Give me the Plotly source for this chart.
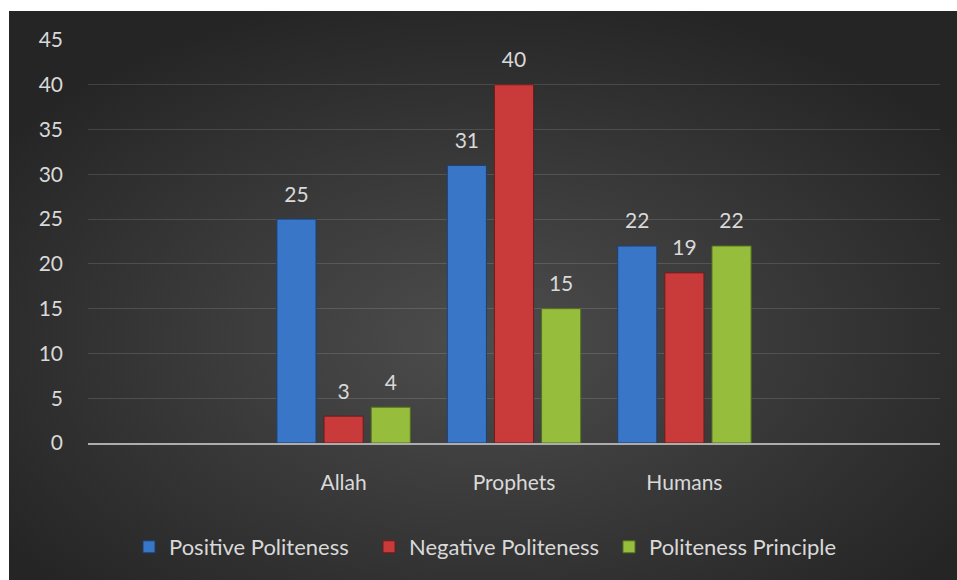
import base64
import plotly.graph_objects as go

categories = ["Allah", "Prophets", "Humans"]
series_names = ["Positive Politeness", "Negative Politeness", "Politeness Principle"]
positive = [25, 31, 22]
negative = [3, 40, 19]
principle = [4, 15, 22]
y_ticks = [0, 5, 10, 15, 20, 25, 30, 35, 40, 45]

colors = ["#3A76C8", "#C93A3A", "#96BE3C"]
edge = ["#1d3f70", "#6e1c1c", "#54701c"]
FONT = "Lato"
TXT = "#D9D9D9"
FS = 21

svg = """<svg xmlns='http://www.w3.org/2000/svg' width='948' height='569' preserveAspectRatio='none'>
<defs><radialGradient id='g' cx='50%' cy='58%' r='62%'>
<stop offset='0' stop-color='#4d4d4d'/><stop offset='1' stop-color='#252525'/>
</radialGradient></defs><rect width='948' height='569' fill='url(#g)'/></svg>"""
src = "data:image/svg+xml;base64," + base64.b64encode(svg.encode()).decode()

fig = go.Figure()
all_vals = [positive, negative, principle]
for name, vals, c, e in zip(series_names, all_vals, colors, edge):
    fig.add_trace(go.Bar(
        x=categories, y=vals, name=name,
        marker=dict(color=c, line=dict(color=e, width=1)),
        hoverinfo="x+y+name",
    ))
# value labels, grouped like the bars
for name, vals in zip(series_names, all_vals):
    fig.add_trace(go.Scatter(
        x=categories, y=vals, mode="markers+text", text=vals,
        textposition="top center", cliponaxis=False,
        marker=dict(size=18, opacity=0), textfont=dict(color=TXT, size=FS, family=FONT),
        showlegend=False, hoverinfo="skip", name=name,
    ))

L, R, T, B = 88, 17, 40, 137
W, H = 957, 580
pw, ph = W - L - R, H - T - B

fig.update_layout(
    width=W, height=H,
    margin=dict(l=L, r=R, t=T, b=B, autoexpand=False),
    paper_bgcolor="white",
    plot_bgcolor="rgba(0,0,0,0)",
    barmode="group", bargap=0.17, bargroupgap=0.17,
    scattermode="group", scattergap=0.17,
    font=dict(family=FONT, color=TXT, size=FS),
    images=[dict(source=src, xref="paper", yref="paper",
                 x=(9 - L) / pw, y=(H - B - 11) / ph,
                 sizex=948 / pw, sizey=569 / ph,
                 xanchor="left", yanchor="top", sizing="stretch", layer="below")],
    legend=dict(orientation="h", x=(129 - L) / pw, xanchor="left",
                y=(H - B - 547) / ph, yanchor="middle",
                entrywidth=195, entrywidthmode="pixels",
                font=dict(size=22, color=TXT, family=FONT),
                bgcolor="rgba(0,0,0,0)"),
    showlegend=True,
)
fig.update_xaxes(range=[-1.5, 3.5], showline=True, linecolor="#ADADAD", linewidth=2,
                 ticks="", tickangle=0, tickfont=dict(size=FS, color=TXT, family=FONT),
                 ticklabelstandoff=20, showgrid=False)
fig.update_yaxes(range=[0, 45], tickvals=y_ticks, showgrid=True,
                 gridcolor="rgba(255,255,255,0.13)", gridwidth=1, zeroline=False,
                 tickfont=dict(size=FS, color=TXT, family=FONT), ticklabelstandoff=24)

fig.write_html("out.html")
